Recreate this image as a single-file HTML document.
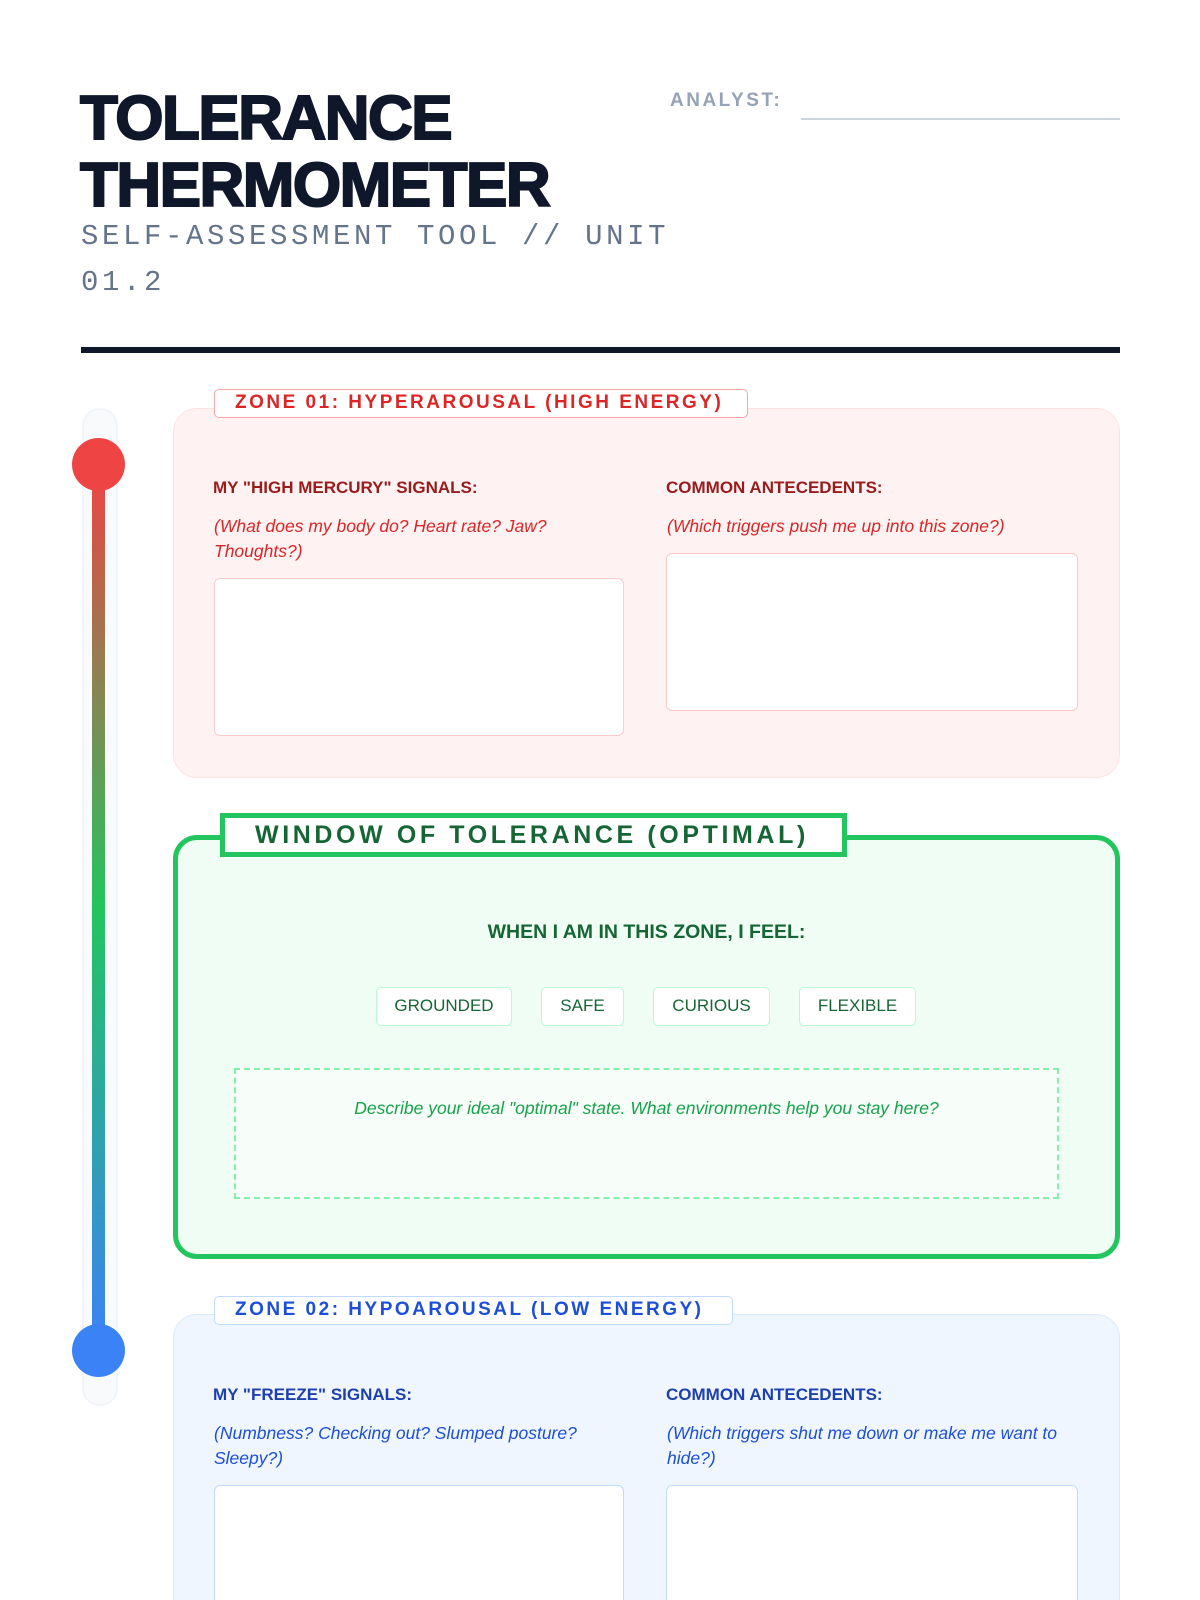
<!DOCTYPE html>
<html><head><meta charset="utf-8"><style>
*{box-sizing:border-box;margin:0;padding:0}
html{width:1200px;height:1600px;overflow:hidden}
body{width:1200px;height:1600px;background:#fff;position:relative;overflow:hidden;font-family:"Liberation Sans",sans-serif}
.a{position:absolute}
.title{left:80px;font-size:62px;font-weight:900;color:#0f172a;letter-spacing:-1.5px;line-height:1;-webkit-text-stroke:2px #0f172a}
.mono{font-family:"Liberation Mono",monospace;color:#64748b;font-size:29px;letter-spacing:3.6px;left:81px}
.zone{border-radius:24px}
.tab{background:#fff;border-radius:5px;font-weight:bold;letter-spacing:2.5px;font-size:19px;line-height:26px;padding-left:20px}
.h{font-weight:bold;font-size:17px}
.it{font-style:italic;font-size:17.5px;line-height:25px}
.box{background:#fff;border-radius:6px}
.chip{top:987px;height:39px;border:1.5px solid #bbf7d0;background:#fff;border-radius:5px;color:#166534;font-size:17px;text-align:center;line-height:36px}
</style></head><body>
<div class="a title" style="top:88px">TOLERANCE</div>
<div class="a title" style="top:155px">THERMOMETER</div>
<div class="a mono" style="top:220px">SELF-ASSESSMENT TOOL // UNIT</div>
<div class="a mono" style="top:266px">01.2</div>
<div class="a" style="left:670px;top:90px;color:#94a3b8;font-weight:bold;font-size:19px;letter-spacing:2.5px">ANALYST:</div>
<div class="a" style="left:801px;top:118px;width:319px;height:2px;background:#cbd5e1"></div>
<div class="a" style="left:81px;top:347px;width:1039px;height:6px;background:#0f172a"></div>

<div class="a" style="left:82px;top:408px;width:36px;height:998px;border-radius:18px;background:#f8fafc;border:2px solid #f1f5f9"></div>
<div class="a" style="left:92px;top:470px;width:13px;height:876px;border-radius:6px;background:linear-gradient(#ef4444,#22c55e 50%,#3b82f6)"></div>
<div class="a" style="left:72px;top:438px;width:53px;height:53px;border-radius:50%;background:#ef4444"></div>
<div class="a" style="left:72px;top:1324px;width:53px;height:53px;border-radius:50%;background:#3b82f6"></div>

<div class="a zone" style="left:173px;top:408px;width:947px;height:370px;background:#fef2f2;border:1.5px solid #fee2e2"></div>
<div class="a tab" style="left:214px;top:389px;width:534px;height:29px;border:1.5px solid #fca5a5;color:#dc2626">ZONE 01: HYPERAROUSAL (HIGH ENERGY)</div>
<div class="a h" style="left:213px;top:478px;color:#991b1b">MY "HIGH MERCURY" SIGNALS:</div>
<div class="a h" style="left:666px;top:478px;color:#991b1b">COMMON ANTECEDENTS:</div>
<div class="a it" style="left:214px;top:514px;width:390px;color:#dc2626">(What does my body do? Heart rate? Jaw? Thoughts?)</div>
<div class="a it" style="left:667px;top:514px;width:410px;color:#dc2626">(Which triggers push me up into this zone?)</div>
<div class="a box" style="left:214px;top:578px;width:410px;height:158px;border:1.5px solid #fecaca"></div>
<div class="a box" style="left:666px;top:553px;width:412px;height:158px;border:1.5px solid #fecaca"></div>

<div class="a zone" style="left:173px;top:835px;width:947px;height:424px;background:#f0fdf4;border:5px solid #22c55e"></div>
<div class="a" style="left:220px;top:813px;width:627px;height:44px;background:#fff;border:5px solid #22c55e;color:#166534;font-weight:bold;font-size:25px;letter-spacing:3.6px;line-height:34px;padding-left:30px">WINDOW OF TOLERANCE (OPTIMAL)</div>
<div class="a h" style="left:173px;width:947px;top:921px;text-align:center;font-size:19.5px;color:#166534">WHEN I AM IN THIS ZONE, I FEEL:</div>
<div class="a chip" style="left:376px;width:136px">GROUNDED</div>
<div class="a chip" style="left:541px;width:83px">SAFE</div>
<div class="a chip" style="left:653px;width:117px">CURIOUS</div>
<div class="a chip" style="left:799px;width:117px">FLEXIBLE</div>
<div class="a" style="left:234px;top:1068px;width:825px;height:131px;border:2.5px dashed #86efac;background:#f7fdf9;color:#16a34a;font-style:italic;font-size:17.5px;text-align:center;padding-top:28px">Describe your ideal "optimal" state. What environments help you stay here?</div>

<div class="a zone" style="left:173px;top:1314px;width:947px;height:320px;background:#eff6ff;border:1.5px solid #dbeafe"></div>
<div class="a tab" style="left:214px;top:1296px;width:519px;height:29px;border:1.5px solid #bfdbfe;color:#1d4ed8">ZONE 02: HYPOAROUSAL (LOW ENERGY)</div>
<div class="a h" style="left:213px;top:1385px;color:#1e40af">MY "FREEZE" SIGNALS:</div>
<div class="a h" style="left:666px;top:1385px;color:#1e40af">COMMON ANTECEDENTS:</div>
<div class="a it" style="left:214px;top:1421px;width:390px;color:#1d4ed8">(Numbness? Checking out? Slumped posture? Sleepy?)</div>
<div class="a it" style="left:667px;top:1421px;width:410px;color:#1d4ed8">(Which triggers shut me down or make me want to hide?)</div>
<div class="a box" style="left:214px;top:1485px;width:410px;height:160px;border:1.5px solid #bfdbfe"></div>
<div class="a box" style="left:666px;top:1485px;width:412px;height:160px;border:1.5px solid #bfdbfe"></div>
</body></html>
